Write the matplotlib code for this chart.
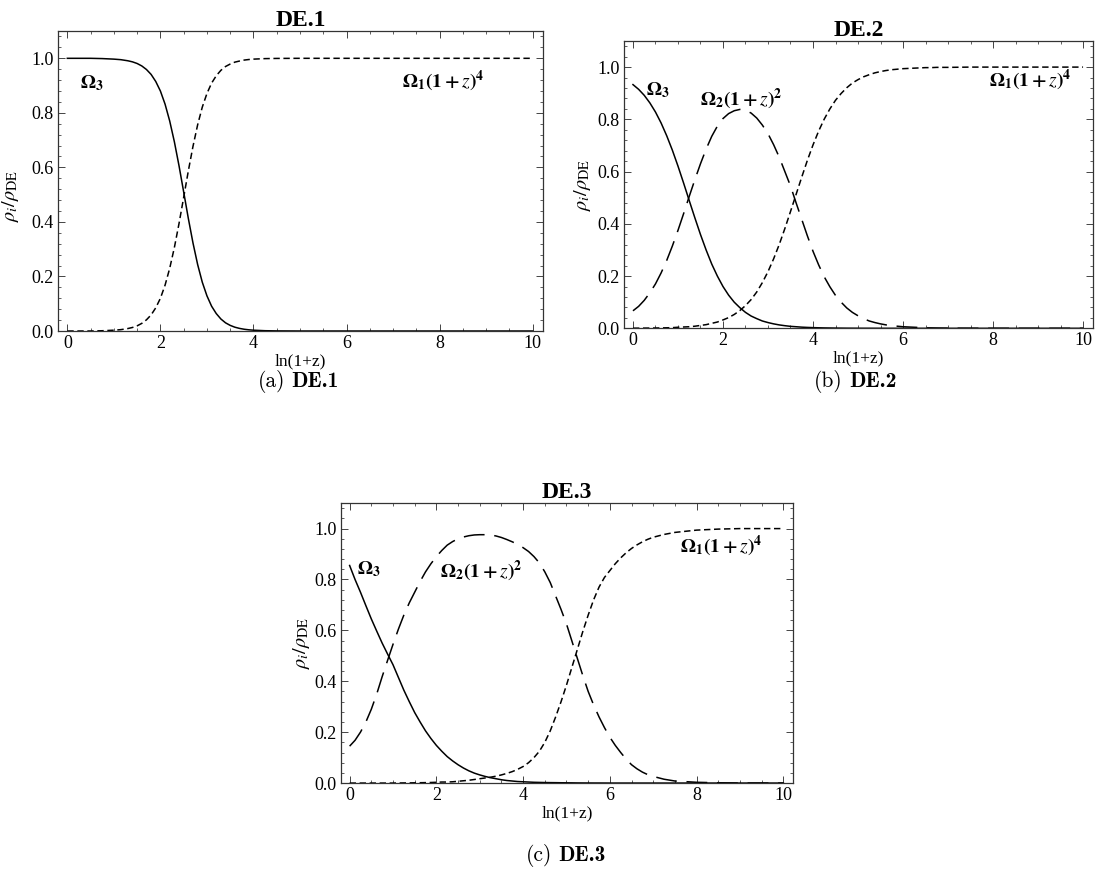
import matplotlib
matplotlib.use("Agg")
import matplotlib.pyplot as plt
from matplotlib.ticker import MultipleLocator, FormatStrFormatter

# ---- data ----
# DE.1
x1 = [0, 0.5, 0.75, 1.0, 1.15, 1.3, 1.4, 1.5, 1.6, 1.7, 1.8, 1.9, 2.0, 2.1, 2.2,
      2.3, 2.4, 2.5, 2.6, 2.7, 2.8, 2.9, 3.0, 3.1, 3.2, 3.3, 3.4, 3.5, 3.6, 3.7,
      3.8, 3.9, 4.0, 4.25, 4.5, 5, 6, 7, 8, 9, 10]
om3_1 = [1.0, 1.0, 0.999, 0.997, 0.995, 0.991, 0.987, 0.981, 0.972, 0.959, 0.941,
         0.915, 0.880, 0.832, 0.770, 0.694, 0.606, 0.510, 0.413, 0.323, 0.244,
         0.179, 0.129, 0.091, 0.064, 0.044, 0.030, 0.0206, 0.014, 0.0096, 0.0065,
         0.0044, 0.003, 0.0011, 0.0004, 0, 0, 0, 0, 0, 0]
om1_1 = [0, 0, 0.001, 0.003, 0.005, 0.009, 0.013, 0.019, 0.028, 0.041, 0.059,
         0.085, 0.120, 0.168, 0.230, 0.306, 0.394, 0.490, 0.587, 0.677, 0.756,
         0.821, 0.871, 0.909, 0.936, 0.956, 0.970, 0.979, 0.986, 0.990, 0.9935,
         0.9956, 0.997, 0.9989, 0.9996, 1, 1, 1, 1, 1, 1]

# sample positions used for DE.2 / DE.3 readings
xs = [i * 0.125 for i in range(57)]

# DE.2
x2 = xs + [7.5, 8, 9, 10]
om3_2 = [0.933, 0.915, 0.892, 0.863, 0.828, 0.786, 0.737, 0.682,
         0.621, 0.556, 0.489, 0.423, 0.359, 0.300, 0.246, 0.200,
         0.160, 0.127, 0.100, 0.079, 0.061, 0.047, 0.037, 0.028,
         0.022, 0.017, 0.013, 0.010, 0.0075, 0.006, 0.0044, 0.0034,
         0.0026, 0.002, 0.0015, 0.0012, 0.0009, 0.0007, 0.0005, 0.0004,
         0.0003, 0.0002, 0.0002, 0.0001, 0.0001, 0, 0, 0,
         0, 0, 0, 0, 0, 0, 0, 0,
         0,
         0, 0, 0, 0]
om2_2 = [0.067, 0.084, 0.107, 0.136, 0.170, 0.212, 0.260, 0.315,
         0.375, 0.439, 0.505, 0.569, 0.630, 0.686, 0.735, 0.774,
         0.803, 0.822, 0.833, 0.838, 0.835, 0.824, 0.805, 0.778,
         0.745, 0.703, 0.655, 0.600, 0.545, 0.480, 0.417, 0.354,
         0.295, 0.243, 0.197, 0.159, 0.126, 0.100, 0.078, 0.061,
         0.048, 0.037, 0.028, 0.022, 0.017, 0.013, 0.010, 0.008,
         0.006, 0.005, 0.004, 0.003, 0.002, 0.0015, 0.001, 0.0007,
         0.0005,
         0.0002, 0, 0, 0]
om1_2 = [0.0005, 0.0006, 0.0008, 0.001, 0.0012, 0.0015, 0.002, 0.0025,
         0.004, 0.005, 0.006, 0.008, 0.011, 0.014, 0.019, 0.024,
         0.032, 0.041, 0.053, 0.068, 0.087, 0.110, 0.139, 0.175,
         0.217, 0.266, 0.321, 0.382, 0.447, 0.513, 0.579, 0.643,
         0.702, 0.755, 0.801, 0.840, 0.873, 0.899, 0.921, 0.939,
         0.952, 0.963, 0.971, 0.978, 0.983, 0.987, 0.990, 0.992,
         0.994, 0.995, 0.996, 0.997, 0.998, 0.998, 0.999, 0.999,
         0.999,
         1.0, 1.0, 1.0, 1.0]

# DE.3
x3 = xs + [7.25, 7.5, 8, 8.5, 9, 10]
om3_3 = [0.855, 0.800, 0.750, 0.697, 0.645, 0.597, 0.550, 0.507,
         0.465, 0.415, 0.365, 0.320, 0.277, 0.240, 0.205, 0.175,
         0.148, 0.125, 0.104, 0.087, 0.072, 0.059, 0.048, 0.039,
         0.032, 0.026, 0.021, 0.017, 0.013, 0.010, 0.008, 0.006,
         0.005, 0.004, 0.003, 0.0025, 0.002, 0.0017, 0.0015, 0.0012,
         0.001, 0.0008, 0.0005, 0.0004, 0.0003, 0.0002, 0.0002, 0.0001,
         0, 0, 0, 0, 0, 0, 0, 0,
         0,
         0, 0, 0, 0, 0, 0]
om2_3 = [0.145, 0.168, 0.200, 0.240, 0.290, 0.350, 0.418, 0.482,
         0.545, 0.605, 0.660, 0.708, 0.750, 0.792, 0.830, 0.862,
         0.890, 0.914, 0.935, 0.949, 0.960, 0.967, 0.972, 0.975,
         0.976, 0.976, 0.975, 0.971, 0.965, 0.957, 0.948, 0.938,
         0.925, 0.910, 0.890, 0.865, 0.830, 0.788, 0.735, 0.682,
         0.625, 0.558, 0.490, 0.423, 0.360, 0.307, 0.260, 0.218,
         0.180, 0.148, 0.120, 0.094, 0.072, 0.056, 0.043, 0.033,
         0.026,
         0.015, 0.008, 0.003, 0.001, 0, 0]
om1_3 = [0, 0, 0, 0, 0, 0, 0, 0,
         0, 0.0003, 0.0005, 0.0007, 0.001, 0.0013, 0.0017, 0.0022,
         0.003, 0.004, 0.004, 0.005, 0.007, 0.009, 0.011, 0.014,
         0.017, 0.020, 0.023, 0.027, 0.032, 0.038, 0.045, 0.054,
         0.065, 0.080, 0.100, 0.125, 0.160, 0.205, 0.260, 0.320,
         0.385, 0.455, 0.525, 0.595, 0.660, 0.720, 0.770, 0.808,
         0.835, 0.862, 0.885, 0.905, 0.922, 0.936, 0.948, 0.958,
         0.966,
         0.977, 0.985, 0.994, 0.998, 1.0, 1.0]

plt.rcParams.update({
    "font.family": "Liberation Serif",
    "mathtext.fontset": "stix",
    "lines.scale_dashes": False,
})

SHORT = (4.6, 2.6)
LONG = (15, 7)
W = 1097
H = 872

fig = plt.figure(figsize=(10.97, 8.72), dpi=100)
ax1 = fig.add_axes([0.0529, 0.6204, 0.4420, 0.3440])
ax2 = fig.add_axes([0.5688, 0.6235, 0.4275, 0.3295])
ax3 = fig.add_axes([0.3108, 0.1020, 0.4120, 0.3210])


def style(ax, title, lab_x, lab_y):
    ax.set_xlim(-0.2, 10.22)
    ax.set_ylim(0, 1.1)
    ax.xaxis.set_major_locator(MultipleLocator(2))
    ax.xaxis.set_minor_locator(MultipleLocator(0.5))
    ax.yaxis.set_major_locator(MultipleLocator(0.2))
    ax.yaxis.set_minor_locator(MultipleLocator(0.04))
    ax.yaxis.set_major_formatter(FormatStrFormatter("%.1f"))
    ax.tick_params(which="both", direction="in", top=True, right=True,
                   labelsize=13, pad=3, color="#444444")
    ax.tick_params(which="major", length=5, width=0.7)
    ax.tick_params(which="minor", length=2.5, width=0.6)
    for s in ax.spines.values():
        s.set_linewidth(0.9)
        s.set_color("#333333")
    ax.set_title(title, fontsize=17, fontweight="bold", pad=3)
    ax.set_xlabel("ln(1+z)", fontsize=12.5, labelpad=1)
    ax.set_ylabel(r"$\rho_i/\rho_{\rm DE}$", fontsize=14.5, labelpad=0)
    # x is the right edge of the rotated label
    ax.yaxis.set_label_coords(lab_x, lab_y)


lab3 = r"$\mathbf{\Omega_3}$"
lab2 = r"$\mathbf{\Omega_2(1+}z\mathbf{)^2}$"
lab1 = r"$\mathbf{\Omega_1(1+}z\mathbf{)^4}$"
fs_lab = 14

# DE.1
ax1.plot(x1, om3_1, color="black", lw=1.1)
ax1.plot(x1, om1_1, color="black", lw=1.1, dashes=SHORT)
style(ax1, "DE.1", -0.077, 0.45)
ax1.text(0.28, 0.91, lab3, fontsize=fs_lab, va="center", ha="left")
ax1.text(7.2, 0.916, lab1, fontsize=fs_lab, va="center", ha="left")

# DE.2
ax2.plot(x2, om3_2, color="black", lw=1.1)
ax2.plot(x2, om2_2, color="black", lw=1.1, dashes=LONG)
ax2.plot(x2, om1_2, color="black", lw=1.1, dashes=SHORT)
style(ax2, "DE.2", -0.066, 0.5)
ax2.text(0.30, 0.913, lab3, fontsize=fs_lab, va="center", ha="left")
ax2.text(1.50, 0.88, lab2, fontsize=fs_lab, va="center", ha="left")
ax2.text(7.9, 0.95, lab1, fontsize=fs_lab, va="center", ha="left")

# DE.3
ax3.plot(x3, om3_3, color="black", lw=1.1)
ax3.plot(x3, om2_3, color="black", lw=1.1, dashes=LONG)
ax3.plot(x3, om1_3, color="black", lw=1.1, dashes=SHORT)
style(ax3, "DE.3", -0.063, 0.5)
ax3.text(0.18, 0.84, lab3, fontsize=fs_lab, va="center", ha="left")
ax3.text(2.08, 0.835, lab2, fontsize=fs_lab, va="center", ha="left")
ax3.text(7.62, 0.933, lab1, fontsize=fs_lab, va="center", ha="left")

# sub-captions (computer-modern, as in the paper)
for xm, ym, tag, name in [(285, 381, "(a)", "DE.1"),
                          (843, 381, "(b)", "DE.2"),
                          (552, 855, "(c)", "DE.3")]:
    fig.text(xm / W, 1 - ym / H, tag, fontsize=15.5, family="cmr10",
             ha="right", va="center")
    fig.text((xm + 6) / W, 1 - ym / H, name, fontsize=15.5, family="cmb10",
             ha="left", va="center")

fig.savefig("out.png", dpi=100)
